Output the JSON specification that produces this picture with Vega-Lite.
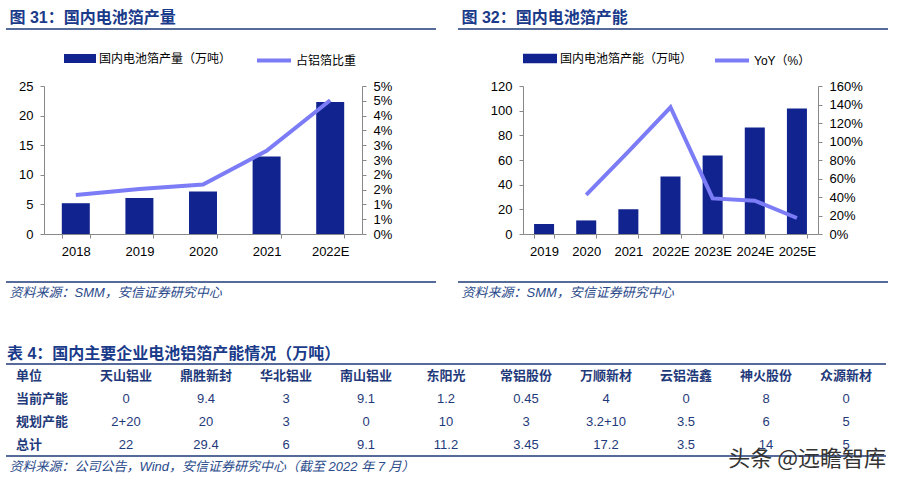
{
  "$schema": "https://vega.github.io/schema/vega-lite/v6.json",
  "padding": {"left": 5, "top": 0, "right": 0, "bottom": 0},
  "background": "white",
  "config": {
    "view": {"stroke": null},
    "axis": {"domainColor": "#888888", "tickColor": "#888888", "labelColor": "#000000", "labelFont": "Liberation Sans", "labelFontSize": 13, "tickSize": 4, "grid": false},
    "legend": {"padding": 0}
  },
  "spacing": 0,
  "resolve": {"scale": {"fill": "independent", "stroke": "independent"}, "legend": {"fill": "independent", "stroke": "independent"}},
  "vconcat": [
    {
      "spacing": 20,
      "hconcat": [
        {
          "width": 430, "height": 29,
          "data": {"values": [{"k": 0}]},
          "mark": {"type": "rule", "color": "#1f3a78", "strokeWidth": 1.5},
          "encoding": {"y": {"datum": 1, "type": "quantitative", "scale": {"domain": [1, 2], "zero": false},
            "axis": {"title": "图 31：国内电池箔产量", "titleAngle": 0, "titleX": 3, "titleY": 17, "titleAlign": "left", "titleBaseline": "middle", "titleFont": "Liberation Sans, Noto Sans CJK SC", "titleFontSize": 16, "titleFontWeight": "bold", "titleColor": "#1a3a8a", "labels": false, "ticks": false, "domain": false, "grid": false}}}
        },
        {
          "width": 430, "height": 29,
          "data": {"values": [{"k": 0}]},
          "mark": {"type": "rule", "color": "#1f3a78", "strokeWidth": 1.5},
          "encoding": {"y": {"datum": 1, "type": "quantitative", "scale": {"domain": [1, 2], "zero": false},
            "axis": {"title": "图 32：国内电池箔产能", "titleAngle": 0, "titleX": 3, "titleY": 17, "titleAlign": "left", "titleBaseline": "middle", "titleFont": "Liberation Sans, Noto Sans CJK SC", "titleFontSize": 16, "titleFontWeight": "bold", "titleColor": "#1a3a8a", "labels": false, "ticks": false, "domain": false, "grid": false}}}
        }
      ]
    },
    {
      "spacing": 0,
      "resolve": {"scale": {"fill": "independent", "stroke": "independent"}, "legend": {"fill": "independent", "stroke": "independent"}},
      "hconcat": [
        {
          "width": 1, "height": 1,
          "data": {"values": [{"k": 0}]},
          "mark": {"type": "rule", "color": "#ffffff", "strokeOpacity": 0},
          "encoding": {"y": {"datum": 1, "type": "quantitative", "scale": {"domain": [1, 2], "zero": false}, "axis": null}}
        },
        {
          "width": 318, "height": 148,
          "title": {"text": " ", "frame": "group", "offset": -9, "fontSize": 10, "baseline": "bottom"},
          "data": {"values": [
            {"year": "2018", "prod": 5.2, "pct": 1.32},
            {"year": "2019", "prod": 6.1, "pct": 1.52},
            {"year": "2020", "prod": 7.2, "pct": 1.67},
            {"year": "2021", "prod": 13.1, "pct": 2.81},
            {"year": "2022E", "prod": 22.3, "pct": 4.52}
          ]},
          "encoding": {"x": {"field": "year", "type": "nominal", "sort": null, "scale": {"paddingInner": 0.56, "paddingOuter": 0.28},
            "axis": {"title": " ", "titleFontSize": 10, "titleY": 47, "titleBaseline": "bottom", "labelAngle": 0, "tickBand": "extent", "labelPadding": 7}}},
          "layer": [
            {"mark": {"type": "bar"},
             "encoding": {
               "y": {"field": "prod", "type": "quantitative", "scale": {"domain": [0, 25]},
                 "axis": {"values": [0, 5, 10, 15, 20, 25], "title": " ", "titleX": -37, "titleY": 0, "titleAngle": 0, "titleAlign": "left", "titleBaseline": "top", "titleFontSize": 10, "labelPadding": 7}},
               "fill": {"datum": "国内电池箔产量（万吨）", "type": "nominal", "scale": {"range": ["#10238f"]},
                 "legend": {"title": null, "orient": "none", "legendX": 20, "legendY": -43.5, "symbolType": "M-1,-0.28H1V0.28H-1Z", "symbolSize": 1024, "symbolStrokeWidth": 0, "labelOffset": 3, "labelFontSize": 12, "labelFont": "Liberation Sans, Noto Sans CJK SC", "labelColor": "#000000"}}
             }},
            {"mark": {"type": "line", "strokeWidth": 4},
             "encoding": {
               "y": {"field": "pct", "type": "quantitative", "scale": {"domain": [0, 5]},
                 "axis": {"orient": "right", "values": [0, 0.5, 1, 1.5, 2, 2.5, 3, 3.5, 4, 4.5, 5], "labelExpr": "round(datum.value) + '%'", "title": null, "labelPadding": 7}},
               "stroke": {"datum": "占铝箔比重", "type": "nominal", "scale": {"range": ["#7b7cf6"]},
                 "legend": {"title": null, "orient": "none", "legendX": 211, "legendY": -44.5, "symbolType": "stroke", "symbolSize": 1156, "symbolStrokeWidth": 4, "labelOffset": 3, "labelFontSize": 12, "labelFont": "Liberation Sans, Noto Sans CJK SC", "labelColor": "#000000"}}
             }}
          ],
          "resolve": {"scale": {"y": "independent"}}
        },
        {
          "width": 295, "height": 148,
          "title": {"text": " ", "frame": "group", "offset": -9, "fontSize": 10, "baseline": "bottom"},
          "data": {"values": [
            {"year": "2019", "cap": 8.1, "yoy": null},
            {"year": "2020", "cap": 11, "yoy": 42.4},
            {"year": "2021", "cap": 20, "yoy": 89},
            {"year": "2022E", "cap": 46.7, "yoy": 137},
            {"year": "2023E", "cap": 63.6, "yoy": 38.5},
            {"year": "2024E", "cap": 86.3, "yoy": 36},
            {"year": "2025E", "cap": 101.7, "yoy": 17.3}
          ]},
          "encoding": {"x": {"field": "year", "type": "nominal", "sort": null, "scale": {"paddingInner": 0.525, "paddingOuter": 0.2625},
            "axis": {"title": " ", "titleFontSize": 10, "titleY": 47, "titleBaseline": "bottom", "labelAngle": 0, "tickBand": "extent", "labelPadding": 7}}},
          "layer": [
            {"mark": {"type": "bar"},
             "encoding": {
               "y": {"field": "cap", "type": "quantitative", "scale": {"domain": [0, 120]},
                 "axis": {"values": [0, 20, 40, 60, 80, 100, 120], "title": " ", "titleX": -131, "titleY": 0, "titleAngle": 0, "titleAlign": "left", "titleBaseline": "top", "titleFontSize": 10, "labelPadding": 7}},
               "fill": {"datum": "国内电池箔产能（万吨）", "type": "nominal", "scale": {"range": ["#10238f"]},
                 "legend": {"title": null, "orient": "none", "legendX": 0, "legendY": -44.5, "symbolType": "M-1,-0.28H1V0.28H-1Z", "symbolSize": 1156, "symbolStrokeWidth": 0, "labelOffset": 3, "labelFontSize": 12, "labelFont": "Liberation Sans, Noto Sans CJK SC", "labelColor": "#000000"}}
             }},
            {"mark": {"type": "line", "strokeWidth": 4},
             "encoding": {
               "y": {"field": "yoy", "type": "quantitative", "scale": {"domain": [0, 160]},
                 "axis": {"orient": "right", "values": [0, 20, 40, 60, 80, 100, 120, 140, 160], "labelExpr": "datum.value + '%'", "title": null, "labelPadding": 7}},
               "stroke": {"datum": "YoY（%）", "type": "nominal", "scale": {"range": ["#7b7cf6"]},
                 "legend": {"title": null, "orient": "none", "legendX": 190, "legendY": -44.5, "symbolType": "stroke", "symbolSize": 1156, "symbolStrokeWidth": 4, "labelOffset": 3, "labelFontSize": 12, "labelFont": "Liberation Sans, Noto Sans CJK SC", "labelColor": "#000000"}}
             }}
          ],
          "resolve": {"scale": {"y": "independent"}}
        }
      ]
    },
    {
      "spacing": 20,
      "hconcat": [
        {
          "width": 430, "height": 64,
          "data": {"values": [{"k": 0}]},
          "layer": [
            {"mark": {"type": "rule", "color": "#1f3a78", "strokeWidth": 1.5},
             "encoding": {"y": {"datum": 2, "type": "quantitative", "scale": {"domain": [1, 2], "zero": false},
               "axis": {"title": "资料来源：SMM，安信证券研究中心", "titleAngle": 0, "titleX": 3, "titleY": 10, "titleAlign": "left", "titleBaseline": "middle", "titleFont": "Liberation Sans, Noto Sans CJK SC", "titleFontSize": 13, "titleFontWeight": "normal", "titleFontStyle": "italic", "titleColor": "#2a4a8a", "labels": false, "ticks": false, "domain": false, "grid": false}}}},
            {"mark": {"type": "rule", "color": "#ffffff", "strokeOpacity": 0},
             "encoding": {"y": {"datum": 1, "type": "quantitative", "scale": {"domain": [1, 2], "zero": false},
               "axis": {"title": "资料来源：SMM，安信证券研究中心", "titleAngle": 0, "titleX": 3, "titleY": 10, "titleAlign": "left", "titleBaseline": "middle", "titleFont": "Liberation Sans, Noto Sans CJK SC", "titleFontSize": 13, "titleFontWeight": "normal", "titleFontStyle": "italic", "titleColor": "#2a4a8a", "labels": false, "ticks": false, "domain": false, "grid": false}}}}
          ]
        },
        {
          "width": 430, "height": 64,
          "data": {"values": [{"k": 0}]},
          "layer": [
            {"mark": {"type": "rule", "color": "#1f3a78", "strokeWidth": 1.5},
             "encoding": {"y": {"datum": 2, "type": "quantitative", "scale": {"domain": [1, 2], "zero": false},
               "axis": {"title": "资料来源：SMM，安信证券研究中心", "titleAngle": 0, "titleX": 3, "titleY": 10, "titleAlign": "left", "titleBaseline": "middle", "titleFont": "Liberation Sans, Noto Sans CJK SC", "titleFontSize": 13, "titleFontWeight": "normal", "titleFontStyle": "italic", "titleColor": "#2a4a8a", "labels": false, "ticks": false, "domain": false, "grid": false}}}},
            {"mark": {"type": "rule", "color": "#ffffff", "strokeOpacity": 0},
             "encoding": {"y": {"datum": 1, "type": "quantitative", "scale": {"domain": [1, 2], "zero": false},
               "axis": {"title": "资料来源：SMM，安信证券研究中心", "titleAngle": 0, "titleX": 3, "titleY": 10, "titleAlign": "left", "titleBaseline": "middle", "titleFont": "Liberation Sans, Noto Sans CJK SC", "titleFontSize": 13, "titleFontWeight": "normal", "titleFontStyle": "italic", "titleColor": "#2a4a8a", "labels": false, "ticks": false, "domain": false, "grid": false}}}}
          ]
        }
      ]
    },
    {
      "width": 880, "height": 92,
      "title": {"text": "表 4：国内主要企业电池铝箔产能情况（万吨）", "anchor": "start", "dx": 1, "offset": 1, "frame": "group", "fontSize": 16, "font": "Liberation Sans, Noto Sans CJK SC", "fontWeight": "bold", "color": "#1a3a8a"},
      "data": {"values": [
        {"row": "单位", "col": "单位", "v": "单位"},
        {"row": "单位", "col": "天山铝业", "v": "天山铝业"},
        {"row": "单位", "col": "鼎胜新封", "v": "鼎胜新封"},
        {"row": "单位", "col": "华北铝业", "v": "华北铝业"},
        {"row": "单位", "col": "南山铝业", "v": "南山铝业"},
        {"row": "单位", "col": "东阳光", "v": "东阳光"},
        {"row": "单位", "col": "常铝股份", "v": "常铝股份"},
        {"row": "单位", "col": "万顺新材", "v": "万顺新材"},
        {"row": "单位", "col": "云铝浩鑫", "v": "云铝浩鑫"},
        {"row": "单位", "col": "神火股份", "v": "神火股份"},
        {"row": "单位", "col": "众源新材", "v": "众源新材"},
        {"row": "当前产能", "col": "单位", "v": "当前产能"},
        {"row": "当前产能", "col": "天山铝业", "v": "0"},
        {"row": "当前产能", "col": "鼎胜新封", "v": "9.4"},
        {"row": "当前产能", "col": "华北铝业", "v": "3"},
        {"row": "当前产能", "col": "南山铝业", "v": "9.1"},
        {"row": "当前产能", "col": "东阳光", "v": "1.2"},
        {"row": "当前产能", "col": "常铝股份", "v": "0.45"},
        {"row": "当前产能", "col": "万顺新材", "v": "4"},
        {"row": "当前产能", "col": "云铝浩鑫", "v": "0"},
        {"row": "当前产能", "col": "神火股份", "v": "8"},
        {"row": "当前产能", "col": "众源新材", "v": "0"},
        {"row": "规划产能", "col": "单位", "v": "规划产能"},
        {"row": "规划产能", "col": "天山铝业", "v": "2+20"},
        {"row": "规划产能", "col": "鼎胜新封", "v": "20"},
        {"row": "规划产能", "col": "华北铝业", "v": "3"},
        {"row": "规划产能", "col": "南山铝业", "v": "0"},
        {"row": "规划产能", "col": "东阳光", "v": "10"},
        {"row": "规划产能", "col": "常铝股份", "v": "3"},
        {"row": "规划产能", "col": "万顺新材", "v": "3.2+10"},
        {"row": "规划产能", "col": "云铝浩鑫", "v": "3.5"},
        {"row": "规划产能", "col": "神火股份", "v": "6"},
        {"row": "规划产能", "col": "众源新材", "v": "5"},
        {"row": "总计", "col": "单位", "v": "总计"},
        {"row": "总计", "col": "天山铝业", "v": "22"},
        {"row": "总计", "col": "鼎胜新封", "v": "29.4"},
        {"row": "总计", "col": "华北铝业", "v": "6"},
        {"row": "总计", "col": "南山铝业", "v": "9.1"},
        {"row": "总计", "col": "东阳光", "v": "11.2"},
        {"row": "总计", "col": "常铝股份", "v": "3.45"},
        {"row": "总计", "col": "万顺新材", "v": "17.2"},
        {"row": "总计", "col": "云铝浩鑫", "v": "3.5"},
        {"row": "总计", "col": "神火股份", "v": "14"},
        {"row": "总计", "col": "众源新材", "v": "5"}
      ]},
      "layer": [
        {
          "data": {"values": [{"row": "单位"}]},
          "mark": {"type": "rule", "color": "#1f3a78", "strokeWidth": 1.5},
          "encoding": {"y": {"field": "row", "type": "nominal", "bandPosition": 0, "scale": {"type": "band", "domain": ["单位", "当前产能", "规划产能", "总计"], "paddingInner": 0, "paddingOuter": 0}, "axis": null}}
        },
        {
          "data": {"values": [{"row": "总计"}]},
          "mark": {"type": "rule", "color": "#1f3a78", "strokeWidth": 1.5},
          "encoding": {"y": {"field": "row", "type": "nominal", "bandPosition": 1, "scale": {"type": "band", "domain": ["单位", "当前产能", "规划产能", "总计"], "paddingInner": 0, "paddingOuter": 0}, "axis": null}}
        },
        {
          "transform": [{"filter": "datum.row === '单位' && datum.col !== '单位'"}],
          "mark": {"type": "text", "font": "Noto Sans CJK SC", "fontSize": 13, "fontWeight": "bold", "color": "#1f3a7a", "baseline": "middle", "align": "center"},
          "encoding": {
            "x": {"field": "col", "type": "nominal", "scale": {"type": "band", "domain": ["单位", "天山铝业", "鼎胜新封", "华北铝业", "南山铝业", "东阳光", "常铝股份", "万顺新材", "云铝浩鑫", "神火股份", "众源新材"], "paddingInner": 0, "paddingOuter": 0},
              "axis": {"title": "资料来源：公司公告，Wind，安信证券研究中心（截至 2022 年 7 月）", "titleX": 3, "titleY": 10, "titleAlign": "left", "titleAnchor": "start", "titleBaseline": "middle", "titleFont": "Liberation Sans, Noto Sans CJK SC", "titleFontSize": 13, "titleFontWeight": "normal", "titleFontStyle": "italic", "titleColor": "#2a4a8a", "labels": false, "ticks": false, "domain": false, "grid": false}},
            "y": {"field": "row", "type": "nominal", "scale": {"type": "band", "domain": ["单位", "当前产能", "规划产能", "总计"], "paddingInner": 0, "paddingOuter": 0}, "axis": null},
            "text": {"field": "v"}
          }
        },
        {
          "transform": [{"filter": "datum.col === '单位'"}],
          "mark": {"type": "text", "font": "Noto Sans CJK SC", "fontSize": 13, "fontWeight": "bold", "color": "#1f3a7a", "baseline": "middle", "align": "left", "dx": 10},
          "encoding": {
            "x": {"field": "col", "type": "nominal", "bandPosition": 0, "scale": {"type": "band", "domain": ["单位", "天山铝业", "鼎胜新封", "华北铝业", "南山铝业", "东阳光", "常铝股份", "万顺新材", "云铝浩鑫", "神火股份", "众源新材"], "paddingInner": 0, "paddingOuter": 0},
              "axis": {"title": "资料来源：公司公告，Wind，安信证券研究中心（截至 2022 年 7 月）", "titleX": 3, "titleY": 10, "titleAlign": "left", "titleAnchor": "start", "titleBaseline": "middle", "titleFont": "Liberation Sans, Noto Sans CJK SC", "titleFontSize": 13, "titleFontWeight": "normal", "titleFontStyle": "italic", "titleColor": "#2a4a8a", "labels": false, "ticks": false, "domain": false, "grid": false}},
            "y": {"field": "row", "type": "nominal", "scale": {"type": "band", "domain": ["单位", "当前产能", "规划产能", "总计"], "paddingInner": 0, "paddingOuter": 0}, "axis": null},
            "text": {"field": "v"}
          }
        },
        {
          "transform": [{"filter": "datum.row !== '单位' && datum.col !== '单位'"}],
          "mark": {"type": "text", "font": "Liberation Sans", "fontSize": 13, "color": "#1f3a7a", "baseline": "middle", "align": "center"},
          "encoding": {
            "x": {"field": "col", "type": "nominal", "scale": {"type": "band", "domain": ["单位", "天山铝业", "鼎胜新封", "华北铝业", "南山铝业", "东阳光", "常铝股份", "万顺新材", "云铝浩鑫", "神火股份", "众源新材"], "paddingInner": 0, "paddingOuter": 0},
              "axis": {"title": "资料来源：公司公告，Wind，安信证券研究中心（截至 2022 年 7 月）", "titleX": 3, "titleY": 10, "titleAlign": "left", "titleAnchor": "start", "titleBaseline": "middle", "titleFont": "Liberation Sans, Noto Sans CJK SC", "titleFontSize": 13, "titleFontWeight": "normal", "titleFontStyle": "italic", "titleColor": "#2a4a8a", "labels": false, "ticks": false, "domain": false, "grid": false}},
            "y": {"field": "row", "type": "nominal", "scale": {"type": "band", "domain": ["单位", "当前产能", "规划产能", "总计"], "paddingInner": 0, "paddingOuter": 0}, "axis": null},
            "text": {"field": "v"}
          }
        },
        {
          "data": {"values": [{"row": "总计", "col": "众源新材", "wm": "头条 @远瞻智库"}]},
          "mark": {"type": "text", "font": "Noto Sans CJK SC", "fontSize": 22, "color": "#333333", "baseline": "middle", "align": "right", "dx": 40, "dy": 14},
          "encoding": {
            "x": {"field": "col", "type": "nominal", "scale": {"type": "band", "domain": ["单位", "天山铝业", "鼎胜新封", "华北铝业", "南山铝业", "东阳光", "常铝股份", "万顺新材", "云铝浩鑫", "神火股份", "众源新材"], "paddingInner": 0, "paddingOuter": 0},
              "axis": {"title": "资料来源：公司公告，Wind，安信证券研究中心（截至 2022 年 7 月）", "titleX": 3, "titleY": 10, "titleAlign": "left", "titleAnchor": "start", "titleBaseline": "middle", "titleFont": "Liberation Sans, Noto Sans CJK SC", "titleFontSize": 13, "titleFontWeight": "normal", "titleFontStyle": "italic", "titleColor": "#2a4a8a", "labels": false, "ticks": false, "domain": false, "grid": false}},
            "y": {"field": "row", "type": "nominal", "scale": {"type": "band", "domain": ["单位", "当前产能", "规划产能", "总计"], "paddingInner": 0, "paddingOuter": 0}, "axis": null},
            "text": {"field": "wm"}
          }
        }
      ]
    }
  ]
}
